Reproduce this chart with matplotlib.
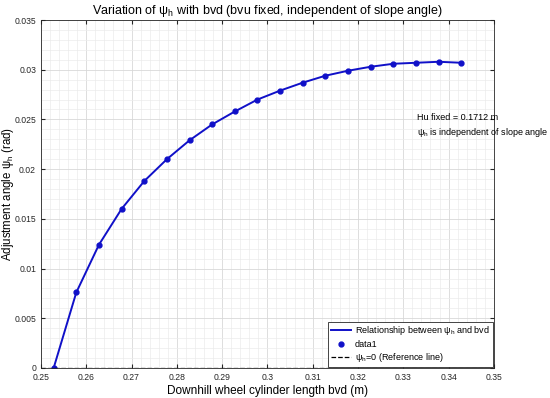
import numpy as np
import matplotlib
matplotlib.use('Agg')
import matplotlib.pyplot as plt
from matplotlib.ticker import MultipleLocator, AutoMinorLocator, FormatStrFormatter

plt.rcParams['font.family'] = ['Liberation Sans', 'DejaVu Sans']
plt.rcParams['mathtext.fontset'] = 'custom'
plt.rcParams['mathtext.rm'] = 'Liberation Sans'
plt.rcParams['mathtext.it'] = 'Liberation Sans'

# data
bvd = [0.2528, 0.2578, 0.2628, 0.2678, 0.2728, 0.2778, 0.2828, 0.2878, 0.2928,
       0.2978, 0.3028, 0.3078, 0.3128, 0.3178, 0.3228, 0.3278, 0.3328, 0.3378, 0.3428]
psi_h = [0.0, 0.0076, 0.0124, 0.0160, 0.0188, 0.0210, 0.0229, 0.0245, 0.0258,
         0.0270, 0.0279, 0.0287, 0.0294, 0.0299, 0.0303, 0.0306, 0.0307, 0.0308, 0.0307]
hu_fixed = 0.1712

blue = '#1010c8'

fig = plt.figure(figsize=(5.5, 3.98), dpi=100)
ax = fig.add_axes([0.0745, 0.0754, 0.8235, 0.8743])

ax.plot(bvd, psi_h, color=blue, lw=1.4, label='Relationship between ψ$_h$ and bvd')
ax.plot(bvd, psi_h, 'o', color=blue, ms=3.5, label='data1')
ax.axhline(0, color='black', ls='--', lw=0.9, label='ψ$_h$=0 (Reference line)')

ax.set_xlim(0.25, 0.35)
ax.set_ylim(0, 0.035)
ax.xaxis.set_major_locator(MultipleLocator(0.01))
ax.yaxis.set_major_locator(MultipleLocator(0.005))
ax.xaxis.set_minor_locator(AutoMinorLocator(5))
ax.yaxis.set_minor_locator(AutoMinorLocator(5))
ax.xaxis.set_major_formatter(FormatStrFormatter('%g'))
ax.yaxis.set_major_formatter(FormatStrFormatter('%g'))

ax.grid(which='major', color='#d8d8d8', lw=0.6)
ax.grid(which='minor', color='#ebebeb', lw=0.5)
ax.set_axisbelow(True)
ax.tick_params(which='both', direction='in', top=True, right=True, labelsize=6.2,
               colors='#262626', length=3)
ax.tick_params(which='minor', length=0)
for s in ax.spines.values():
    s.set_color('#262626')
    s.set_linewidth(0.6)

ax.set_xlabel('Downhill wheel cylinder length bvd (m)', fontsize=8.5, labelpad=2)
ax.set_ylabel('Adjustment angle ψ$_h$ (rad)', fontsize=8.3, va='center')
ax.yaxis.set_label_coords(-0.073, 0.5)
ax.set_title('Variation of ψ$_h$ with bvd (bvu fixed, independent of slope angle)',
             fontsize=9, pad=4)

ax.text(0.3331, 0.0252, 'Hu fixed = %g m' % hu_fixed, fontsize=6.5, va='center', clip_on=False)
ax.text(0.3331, 0.0237, 'ψ$_h$ is independent of slope angle', fontsize=6.5, va='center',
        clip_on=False)

leg = ax.legend(loc='lower right', fontsize=6.5, fancybox=False, edgecolor='#262626',
                framealpha=1, borderpad=0.3, labelspacing=0.25, handlelength=2.2,
                handletextpad=0.5, borderaxespad=0.15)
leg.get_frame().set_linewidth(0.6)

fig.savefig('out.png', dpi=100)
